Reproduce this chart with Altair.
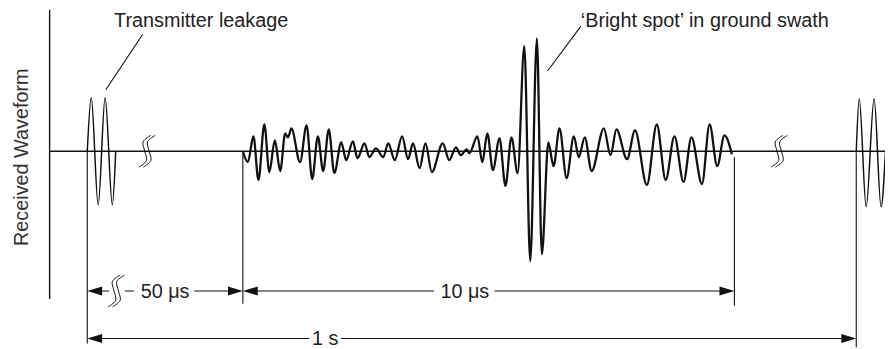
import altair as alt
import pandas as pd

# ---- waveform: time (diagram units) and amplitude (relative to baseline)
echo_t = [245, 250, 255.7, 260.7, 266.7, 271.7, 277.3, 282.7, 287.7, 290.5, 294, 302.7, 309.3, 315,
          320.7, 326, 331.7, 337.3, 344.3, 349.3, 356, 360.7, 367.7, 372.7, 379.3, 386.7, 391.7,
          398.3, 405.7, 411.7, 416.7, 423.3, 429.3, 435.7, 446.7, 453.3, 460, 465, 471, 473.5,
          481.7, 486.7, 491.7, 497.3, 504, 510, 516, 522.3, 529, 535, 541.7, 546.7, 553.3, 558.5,
          564.5, 571.7, 579, 584, 590, 597, 609.3, 616, 622, 632.7, 640.7, 652.7, 662.7, 671.7,
          680.5, 689.7, 697.7, 708.3, 716, 723.7, 731, 738.5]
echo_a = [0, -11, 15, -29, 27, -21, 11, -20, 18, 14, 23, -11, 26, -28,
          15, -20, 22, -22, 9, -9, 10, -7, 8, -6, 3, -6, 8,
          -9, 15, -8, 8, -17, 8, -21, 8, -9, 4, -4, 2, -2,
          15, -11, 18, -19, 13, -35, 14, -22, 106, -111, 114, -104, 9, -15,
          23, -27, 15, -6, 14, -20, 23, -4, 22, -8, 21, -34, 27, -29,
          15, -31, 14, -33, 27, -15, 16, -3]

leak_t = [88, 92, 99, 106, 113.3, 116.7]
leak_a = [0, 54, -54, 54, -54, 0]
leak2_t = [864, 867, 874, 882, 889, 893.5]
leak2_a = [0, 53, -56, 53, -56, 0]

# baseline and y-axis line
base_t = [50, 893]
axis_t = 50
axis_a = [143, -149]

# extension (vertical) lines: time, top amplitude, bottom amplitude
ext_t = [88, 245, 741, 864]
ext_top = [0, -2, -6, -1]
ext_bot = [-194, -154, -156, -198]

# dimension lines (horizontal segments)
dim_t1 = [95, 126, 196, 250, 499, 95, 344]
dim_t2 = [110, 135, 238, 438, 734, 312, 857]
dim_a = [-141, -141, -141, -141, -141, -189, -189]

# arrowheads
arr_t = [88, 245, 245, 741, 88, 864]
arr_a = [-141, -141, -141, -141, -189, -189]
arr_dir = ["left", "right", "left", "right", "left", "right"]

# dimension labels
dim_label = ["50 \u03bcs", "10 \u03bcs", "1 s"]
dim_label_t = [166.5, 469, 328]
dim_label_a = [-141, -141, -189]

# annotations
note_text = ["Transmitter leakage", "\u2018Bright spot\u2019 in ground swath"]
note_t = [115, 586]
note_a = [125, 125]
ptr_t1 = [106.7, 552.5]
ptr_a1 = [62, 81]
ptr_t2 = [144, 586]
ptr_a2 = [118, 126]

# break symbols (centre) and glyph shape (a wavy stroke)
brk_t = [148, 117, 786]
brk_a = [0, -141, 0]
glyph_dt = [-6, 1.7, 0, -1.7, 6]
glyph_da = [-16, -9.5, 0, 9.5, 16]

xs = alt.Scale(domain=[8, 893])
ys = alt.Scale(domain=[-198, 143])
FONT = "Liberation Sans"
INK = "#111111"


def line(df, width, interp="monotone"):
    return alt.Chart(df).mark_line(color=INK, strokeWidth=width, interpolate=interp, clip=True).encode(
        x=alt.X("t:Q", scale=xs, axis=None),
        y=alt.Y("a:Q", scale=ys, axis=None),
        detail="g:N",
        order="i:Q",
    )


def mk(ts, as_, g="0"):
    return pd.DataFrame({"t": ts, "a": as_, "i": range(len(ts)), "g": g})


base_df = mk(base_t, [0, 0])
axis_df = mk([axis_t, axis_t], axis_a)
echo_df = mk(echo_t, echo_a)
leak_df = pd.concat([mk(leak_t, leak_a, "l"), mk(leak2_t, leak2_a, "r")])

rows = []
for k, (bt, ba) in enumerate(zip(brk_t, brk_a)):
    for s, off in enumerate([0, 4.5]):
        for j, (dt, da) in enumerate(zip(glyph_dt, glyph_da)):
            rows.append({"t": bt + dt + off - 2, "a": ba + da, "i": j, "g": f"{k}-{s}"})
brk_df = pd.DataFrame(rows)

ext_df = pd.DataFrame({"t1": ext_t, "t2": ext_t, "a1": ext_top, "a2": ext_bot})
dim_df = pd.DataFrame({"t1": dim_t1, "t2": dim_t2, "a1": dim_a, "a2": dim_a})
ptr_df = pd.DataFrame({"t1": ptr_t1, "t2": ptr_t2, "a1": ptr_a1, "a2": ptr_a2})


def seg(df, width):
    return alt.Chart(df).mark_rule(color=INK, strokeWidth=width, clip=True).encode(
        x=alt.X("t1:Q", scale=xs, axis=None), x2="t2:Q",
        y=alt.Y("a1:Q", scale=ys, axis=None), y2="a2:Q",
    )


arr_df = pd.DataFrame({"t": arr_t, "a": arr_a, "d": arr_dir})
RIGHT = "M0,0 L-2,-0.6 L-2,0.6 Z"
LEFT = "M0,0 L2,-0.6 L2,0.6 Z"


def arrows(direction, path):
    return alt.Chart(arr_df).transform_filter(alt.datum.d == direction).mark_point(
        shape=path, size=225, filled=True, color=INK, opacity=1, strokeWidth=0, clip=True
    ).encode(x=alt.X("t:Q", scale=xs, axis=None), y=alt.Y("a:Q", scale=ys, axis=None))


note_df = pd.DataFrame({"t": note_t, "a": note_a, "label": note_text})
notes = alt.Chart(note_df).mark_text(align="left", baseline="alphabetic", fontSize=20, font=FONT,
                                     color="#222222").encode(
    x=alt.X("t:Q", scale=xs, axis=None), y=alt.Y("a:Q", scale=ys, axis=None), text="label:N")

dl_df = pd.DataFrame({"t": dim_label_t, "a": dim_label_a, "label": dim_label})
dlabels = alt.Chart(dl_df).mark_text(align="center", baseline="middle", fontSize=20, font=FONT,
                                     color="#222222", dy=1).encode(
    x=alt.X("t:Q", scale=xs, axis=None), y=alt.Y("a:Q", scale=ys, axis=None), text="label:N")

ytitle = alt.Chart(pd.DataFrame({"t": [22], "a": [-6], "label": ["Received Waveform"]})).mark_text(
    align="center", baseline="middle", fontSize=20, font=FONT, color="#333333", angle=270
).encode(x=alt.X("t:Q", scale=xs, axis=None), y=alt.Y("a:Q", scale=ys, axis=None), text="label:N")

chart = alt.layer(
    line(base_df, 1.4, "linear"),
    line(axis_df, 1.4, "linear"),
    seg(ext_df, 1.1),
    seg(dim_df, 1.1),
    seg(ptr_df, 1.1),
    line(brk_df, 1.0, "cardinal"),
    line(leak_df, 1.5),
    line(echo_df, 2.3),
    arrows("right", RIGHT),
    arrows("left", LEFT),
    notes,
    dlabels,
    ytitle,
).properties(
    width=885, height=341, padding=0, autosize=alt.AutoSizeParams(type="none"),
    background="white",
).configure_view(stroke=None)

chart.save("out.html", embed_options={"renderer": "svg", "actions": False})
